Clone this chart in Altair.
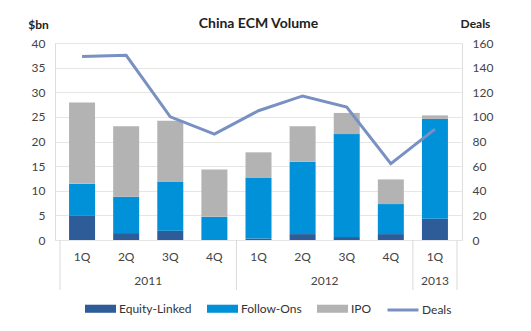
import altair as alt
import pandas as pd

title_text = ["China ECM Volume"]
quarters = ["1Q", "2Q", "3Q", "4Q", "1Q", "2Q", "3Q", "4Q", "1Q"]
years = ["2011", "2012", "2013"]
year_start = [0, 4, 8]
year_end = [4, 8, 9]
equity_linked = [4.9, 1.4, 1.9, 0.0, 0.3, 1.2, 0.6, 1.2, 4.3]
follow_ons = [6.5, 7.4, 10.0, 4.7, 12.4, 14.7, 20.9, 6.1, 20.3]
ipo = [16.5, 14.3, 12.3, 9.6, 5.1, 7.2, 4.3, 5.0, 0.7]
deals = [149, 150, 100, 86, 105, 117, 108, 62, 90]
series = ["Equity-Linked", "Follow-Ons", "IPO"]
colors = ["#2D5C98", "#0091D9", "#B3B3B3"]
line_color = "#7890C2"

FONT = "Lato"
W, H = 407, 197

rows = []
for i in range(len(quarters)):
    for k, (name, vals) in enumerate(zip(series, [equity_linked, follow_ons, ipo])):
        rows.append({"pos": i + 0.5, "series": name, "value": vals[i], "order": k})
bars_df = pd.DataFrame(rows)
line_df = pd.DataFrame({"pos": [i + 0.5 for i in range(len(quarters))], "Deals": deals,
                        "quarter": quarters, "legend": ["Deals"] * len(quarters)})
year_df = pd.DataFrame({"year": years, "mid": [(a + b) / 2 for a, b in zip(year_start, year_end)]})
sep_df = pd.DataFrame({"x": [0] + year_end})
title_df = pd.DataFrame({"t": title_text})

xscale = alt.Scale(domain=[0, 9], nice=False, zero=False)

bars = alt.Chart(bars_df).mark_bar(size=26).encode(
    x=alt.X("pos:Q", scale=xscale, axis=None),
    y=alt.Y("value:Q", stack="zero", scale=alt.Scale(domain=[0, 40]),
            axis=alt.Axis(values=list(range(0, 41, 5)), title="$bn", titleAngle=0,
                          titleX=-17, titleY=-12, titleAlign="center", titleBaseline="bottom",
                          titleFontWeight="bold", titleFont=FONT, titleFontSize=12,
                          titleColor="#222", ticks=False, domain=False, labelPadding=10,
                          labelFont=FONT, labelFontSize=12, labelColor="#444",
                          gridColor="#E6E6E6", grid=True)),
    color=alt.Color("series:N", scale=alt.Scale(domain=series, range=colors),
                    legend=alt.Legend(title=None, orient="none", legendX=30, legendY=250,
                                      direction="horizontal", columns=3, columnPadding=15,
                                      symbolType="M-1,-0.26H1V0.26H-1Z", symbolSize=961,
                                      symbolStrokeWidth=0, labelOffset=3,
                                      labelFont=FONT, labelFontSize=12, labelColor="#333")),
    order=alt.Order("order:Q"),
)

line = alt.Chart(line_df).mark_line(strokeWidth=3).encode(
    x=alt.X("pos:Q", scale=xscale, axis=None),
    y=alt.Y("Deals:Q", scale=alt.Scale(domain=[0, 160]),
            axis=alt.Axis(orient="right", values=list(range(0, 161, 20)), title="Deals",
                          titleAngle=0, titleX=13, titleY=-13, titleAlign="center",
                          titleBaseline="bottom", titleFontWeight="bold", titleFont=FONT,
                          titleFontSize=12, titleColor="#222", ticks=False, domain=False,
                          labelPadding=10, labelFont=FONT, labelFontSize=12,
                          labelColor="#444", grid=False)),
    stroke=alt.Stroke("legend:N", scale=alt.Scale(domain=["Deals"], range=[line_color]),
                      legend=alt.Legend(title=None, orient="none", legendX=331, legendY=250,
                                        symbolType="stroke", symbolSize=961,
                                        symbolStrokeWidth=3, labelOffset=2,
                                        labelFont=FONT, labelFontSize=12, labelColor="#333")),
)

qlabels = alt.Chart(line_df).mark_text(font=FONT, fontSize=12, color="#444").encode(
    x=alt.X("pos:Q", scale=xscale, axis=None),
    y=alt.value(H + 17),
    text="quarter:N",
)

ylabels = alt.Chart(year_df).mark_text(font=FONT, fontSize=12, color="#444").encode(
    x=alt.X("mid:Q", scale=xscale, axis=None),
    y=alt.value(H + 41),
    text="year:N",
)

seps = alt.Chart(sep_df).mark_rule(color="#D9D9D9", strokeWidth=1).encode(
    x=alt.X("x:Q", scale=xscale, axis=None),
    y=alt.value(H),
    y2=alt.value(H + 50),
)

title = alt.Chart(title_df).mark_text(font=FONT, fontSize=14, fontWeight="bold",
                                      color="#222", baseline="middle").encode(
    x=alt.value(W / 2),
    y=alt.value(-19),
    text="t:N",
)

chart = alt.layer(bars, line, seps, qlabels, ylabels, title).resolve_scale(
    y="independent", color="independent"
).properties(
    width=W, height=H,
    autosize=alt.AutoSizeParams(type="none"),
    padding={"left": 55, "top": 43, "right": 69, "bottom": 91},
).configure_view(stroke=None).configure(background="white")

chart.save("out.html", embed_options={"renderer": "svg", "actions": False})
